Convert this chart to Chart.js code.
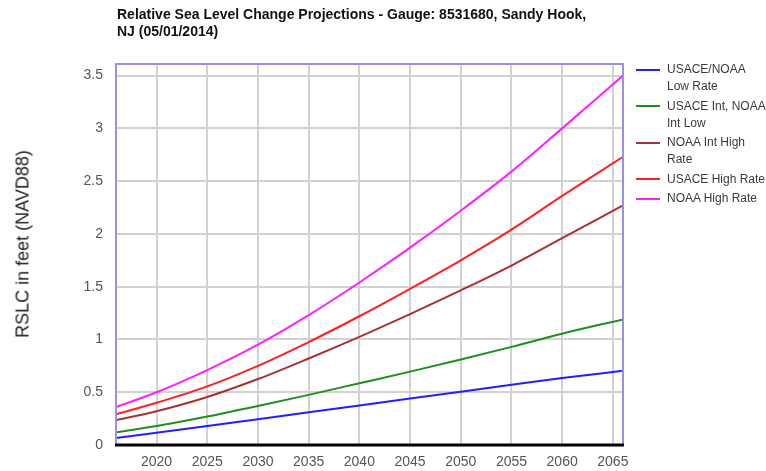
<!DOCTYPE html>
<html>
<head>
<meta charset="utf-8">
<script src="https://cdn.jsdelivr.net/npm/chart.js@4.4.1/dist/chart.umd.min.js"></script>
<style>
  html, body { margin: 0; padding: 0; background: #fff; }
  #wrap { position: relative; width: 766px; height: 471px; overflow: hidden; font-family: "Liberation Sans", Arial, sans-serif; }
  #c { position: absolute; left: 0; top: 0; }
  #title { position: absolute; left: 117px; top: 6px; width: 478px; font-weight: bold; font-size: 14px; line-height: 17px; color: #111; }
  #ytitle { position: absolute; left: 23px; top: 244px; transform: translate(-50%, -50%) rotate(-90deg); white-space: nowrap; font-size: 18px; color: #222; }
  #legend { position: absolute; left: 636px; top: 61px; width: 140px; }
  .item { position: relative; margin-bottom: 2.5px; }
  .swatch { position: absolute; left: 0; top: 7.5px; width: 24px; height: 2px; }
  .label { margin-left: 31px; width: 101.5px; font-size: 12px; line-height: 17px; color: #3a3a3a; white-space: normal; }
</style>
</head>
<body>
<div id="wrap">
  <canvas id="c" width="766" height="471"></canvas>
  <div id="title"></div>
  <div id="ytitle"></div>
  <div id="legend"></div>
</div>
<script>
// ---- data ----
const chartTitle = "Relative Sea Level Change Projections - Gauge: 8531680, Sandy Hook, NJ (05/01/2014)";
const yAxisTitle = "RSLC in feet (NAVD88)";
const years = [2016, 2020, 2025, 2030, 2035, 2040, 2045, 2050, 2055, 2060, 2066];
const seriesNames = ["USACE/NOAA Low Rate", "USACE Int, NOAA Int Low", "NOAA Int High Rate", "USACE High Rate", "NOAA High Rate"];
const lowRate      = [0.066, 0.115, 0.18, 0.245, 0.31, 0.375, 0.44, 0.505, 0.57, 0.635, 0.703];
const intLow       = [0.12, 0.18, 0.27, 0.37, 0.475, 0.585, 0.695, 0.81, 0.93, 1.055, 1.19];
const noaaIntHigh  = [0.235, 0.32, 0.455, 0.625, 0.82, 1.025, 1.24, 1.465, 1.70, 1.96, 2.27];
const usaceHigh    = [0.29, 0.40, 0.555, 0.75, 0.975, 1.22, 1.48, 1.75, 2.04, 2.36, 2.73];
const noaaHigh     = [0.36, 0.50, 0.71, 0.95, 1.23, 1.54, 1.87, 2.22, 2.59, 3.00, 3.50];
const yTickValues  = [0, 0.5, 1, 1.5, 2, 2.5, 3, 3.5];
const xTickValues  = [2020, 2025, 2030, 2035, 2040, 2045, 2050, 2055, 2060, 2065];

// ---- styles ----
const seriesColors = ["#1f1fff", "#1f8f1f", "#a83232", "#ff2020", "#ff1fff"];
const allSeries = [lowRate, intLow, noaaIntHigh, usaceHigh, noaaHigh];

document.getElementById('title').textContent = chartTitle;
document.getElementById('ytitle').textContent = yAxisTitle;

const legend = document.getElementById('legend');
seriesNames.forEach((n, i) => {
  const it = document.createElement('div'); it.className = 'item';
  const sw = document.createElement('div'); sw.className = 'swatch'; sw.style.background = seriesColors[i];
  const lb = document.createElement('div'); lb.className = 'label'; lb.textContent = n;
  it.appendChild(sw); it.appendChild(lb); legend.appendChild(it);
});

const framePlugin = {
  id: 'frame',
  afterDraw(chart) {
    const a = chart.chartArea, ctx = chart.ctx;
    ctx.save();
    ctx.strokeStyle = '#9c90e4';
    ctx.lineWidth = 2;
    ctx.beginPath();
    ctx.moveTo(a.left, a.bottom);
    ctx.lineTo(a.left, a.top);
    ctx.lineTo(a.right, a.top);
    ctx.lineTo(a.right, a.bottom);
    ctx.stroke();
    ctx.strokeStyle = '#000';
    ctx.lineWidth = 3;
    ctx.beginPath();
    ctx.moveTo(a.left - 1, a.bottom);
    ctx.lineTo(a.right + 1, a.bottom);
    ctx.stroke();
    ctx.restore();
  }
};

new Chart(document.getElementById('c'), {
  type: 'line',
  data: {
    datasets: allSeries.map((s, i) => ({
      label: seriesNames[i],
      data: years.map((y, k) => ({ x: y, y: s[k] })),
      borderColor: seriesColors[i],
      backgroundColor: seriesColors[i],
      borderWidth: 2,
      pointRadius: 0,
      cubicInterpolationMode: 'monotone',
      fill: false
    }))
  },
  options: {
    responsive: false,
    animation: false,
    events: [],
    layout: { padding: { left: 0, top: 64, right: 143, bottom: 0 } },
    plugins: { legend: { display: false }, title: { display: false }, tooltip: { enabled: false } },
    scales: {
      x: {
        type: 'linear', min: 2016, max: 2066,
        afterFit: s => { s.height = 26; },
        afterBuildTicks: s => { s.ticks = xTickValues.map(v => ({ value: v })); },
        grid: { color: '#d2d2d2', lineWidth: 2, drawTicks: false },
        border: { display: false },
        ticks: { autoSkip: false, maxRotation: 0, padding: 9, color: '#555', font: { family: 'Liberation Sans', size: 14 }, callback: v => String(v) }
      },
      y: {
        type: 'linear', min: 0, max: 3.61,
        afterFit: s => { s.width = 116; },
        afterBuildTicks: s => { s.ticks = yTickValues.map(v => ({ value: v })); },
        grid: { color: '#d2d2d2', lineWidth: 2, drawTicks: false },
        border: { display: false },
        ticks: { padding: 13, color: '#555', font: { family: 'Liberation Sans', size: 14 }, callback: v => String(v) }
      }
    }
  },
  plugins: [framePlugin]
});
</script>
</body>
</html>
